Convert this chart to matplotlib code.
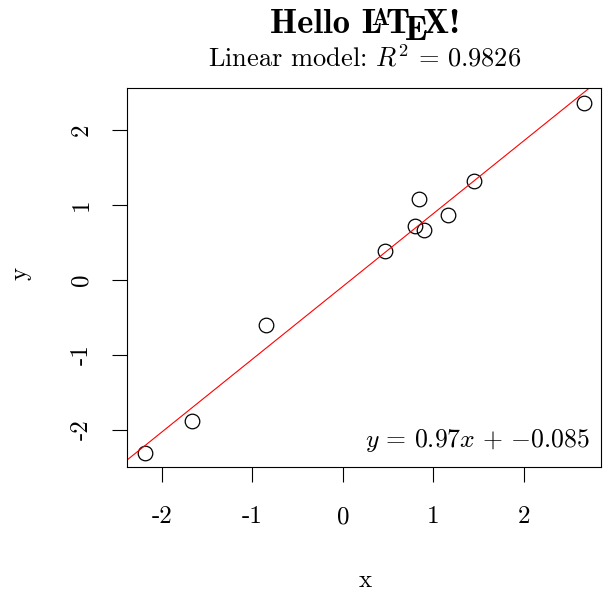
import matplotlib
matplotlib.use("Agg")
import matplotlib.pyplot as plt
import numpy as np

plt.rcParams['mathtext.fontset'] = 'cm'
plt.rcParams['axes.unicode_minus'] = False

# data
x = [-2.188, -1.665, -0.851, 0.464, 0.799, 0.843, 0.902, 1.164, 1.448, 2.667]
y = [-2.303, -1.884, -0.604, 0.391, 0.724, 1.084, 0.671, 0.867, 1.324, 2.364]
slope = 0.97
intercept = -0.085
r2 = 0.9826
ticks = [-2, -1, 0, 1, 2]
tick_labels = ["-2", "-1", "0", "1", "2"]

W, H = 603, 592
fig = plt.figure(figsize=(W / 100, H / 100), dpi=100)
ax = fig.add_axes([127 / W, (H - 467) / H, (601 - 127) / W, (467 - 88) / H])

ax.plot(x, y, 'o', mfc='none', mec='black', ms=10.5, mew=0.9)
ax.axline((0, intercept), slope=slope, color='red', lw=0.8)
ax.set_xlim(-2.387, 2.855)
ax.set_ylim(-2.493, 2.56)

ax.set_xticks(ticks)
ax.set_xticklabels(tick_labels, family='cmr10', fontsize=18)
ax.set_yticks(ticks)
ax.set_yticklabels(tick_labels, family='cmr10', fontsize=18, rotation=90, va='center')
ax.tick_params(length=11, width=0.8)
ax.tick_params(axis='x', pad=17)
ax.tick_params(axis='y', pad=14)
for s in ax.spines.values():
    s.set_linewidth(0.8)

ax.text(0.977, 0.035, r"$y\,=\,%.2fx\,+\,{%.3f}$" % (slope, intercept), transform=ax.transAxes,
        ha='right', va='bottom', fontsize=18.5)

fig.text(365 / W, 1 - 581 / H, "x", family='cmr10', fontsize=18, ha='center', va='center')
fig.text(20 / W, 1 - 273 / H, "y", family='cmr10', fontsize=18, ha='center', va='center', rotation=90)

fig.text(365 / W, 1 - 58 / H, r"Linear model: $R^2\,=\,%.4f$" % r2, family='cmr10',
         fontsize=19, ha='center', va='center')

# LaTeX logo in the title, placed piece by piece
renderer = fig.canvas.get_renderer()
fs = 25
pieces = [("Hello L", fs, 0, -0.32), ("A", fs * 0.68, 0.24, -0.10), ("T", fs, 0, -0.14),
          ("E", fs, -0.21, -0.11), ("X!", fs, 0, 0)]
objs = []
total = 0
for s, size, dy, kern in pieces:
    t = fig.text(0, 0, s, family='cmb10', fontsize=size, ha='left', va='baseline')
    w = t.get_window_extent(renderer).width
    em = fs * 100 / 72
    objs.append((t, w, dy * em, kern * em))
    total += w + kern * em
xpos = 365 - total / 2
base = H - 33
for t, w, dy, kern in objs:
    t.set_position((xpos / W, (base + dy) / H))
    xpos += w + kern

fig.savefig("out.png", dpi=100)
